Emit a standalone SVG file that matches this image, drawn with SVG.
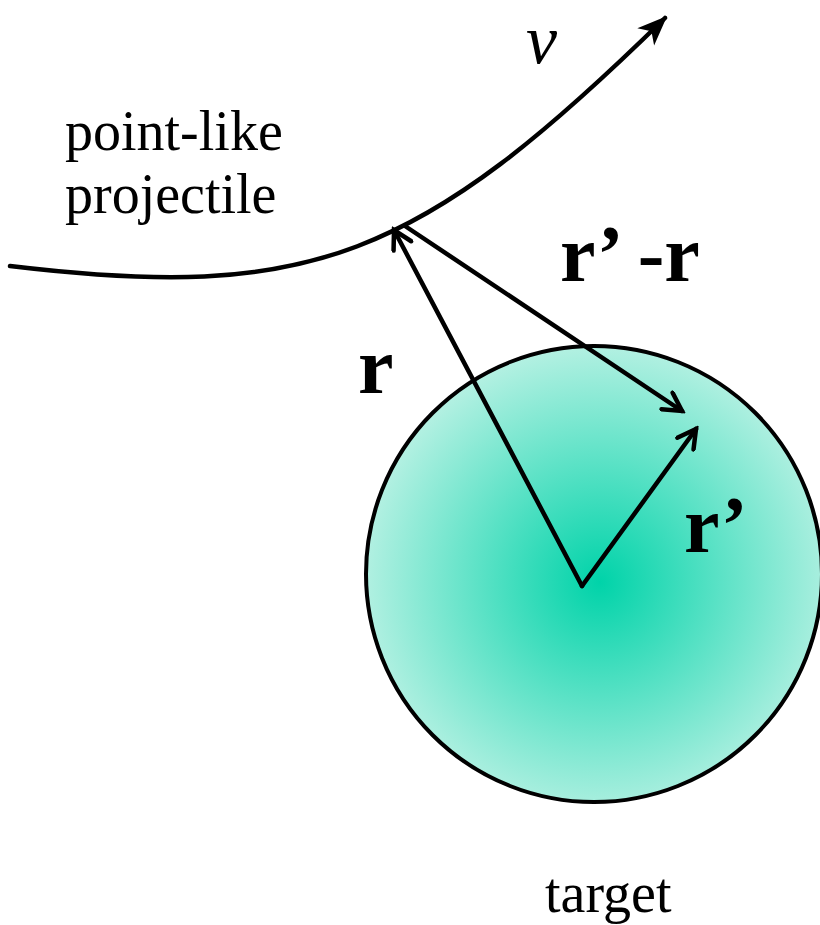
<svg xmlns="http://www.w3.org/2000/svg" width="820" height="925" viewBox="0 0 820 925">
  <style>
    .txt { font-family: "Liberation Serif", "Times New Roman", serif; fill: #000; }
    .reg { font-size: 56px; }
    .bold { font-size: 80px; font-weight: bold; }
    .ital { font-size: 70px; font-style: italic; }
    .line { fill: none; stroke: #000; stroke-width: 4.5; stroke-linecap: round; }
  </style>
  <defs>
    <radialGradient id="glow" cx="600" cy="582" r="250" gradientUnits="userSpaceOnUse">
      <stop offset="0" stop-color="#00D3A9"/>
      <stop offset="1" stop-color="#BDF2E5"/>
    </radialGradient>
    <marker id="open" viewBox="-22 -12 26 24" refX="0" refY="0" markerWidth="26" markerHeight="24" markerUnits="userSpaceOnUse" orient="auto">
      <path d="M-18,-10 L0,0 L-18,10" fill="none" stroke="#000" stroke-width="4.5" stroke-linecap="round" stroke-linejoin="miter"/>
    </marker>
    <marker id="solid" viewBox="-30 -14 34 28" refX="0" refY="0" markerWidth="34" markerHeight="28" markerUnits="userSpaceOnUse" orient="auto">
      <path d="M3,0 L-27,-12 L-19,0 L-27,12 Z" fill="#000"/>
    </marker>
  </defs>

  <g id="target">
    <circle cx="594" cy="574" r="228" fill="url(#glow)" stroke="#000" stroke-width="4"/>
    <text class="txt reg" x="545" y="912">target</text>
  </g>

  <g id="projectile">
    <text class="txt reg" x="65" y="150">point-like</text>
    <text class="txt reg" x="65" y="213">projectile</text>
  </g>

  <g id="connectors">
    <path id="trajectory" class="line" d="M10,266 C310,302 418,260 665,18" marker-end="url(#solid)"/>
    <line id="vec-r" class="line" x1="582" y1="586" x2="394" y2="230" marker-end="url(#open)"/>
    <line id="vec-rp" class="line" x1="582" y1="586" x2="696" y2="429" marker-end="url(#open)"/>
    <line id="vec-diff" class="line" x1="405" y1="226" x2="682" y2="411" marker-end="url(#open)"/>
  </g>

  <g id="labels">
    <text class="txt ital" x="526" y="63">v</text>
    <text class="txt bold" x="358" y="393">r</text>
    <text class="txt bold" x="560" y="281">r’ -r</text>
    <text class="txt bold" x="684" y="552">r’</text>
  </g>
</svg>
